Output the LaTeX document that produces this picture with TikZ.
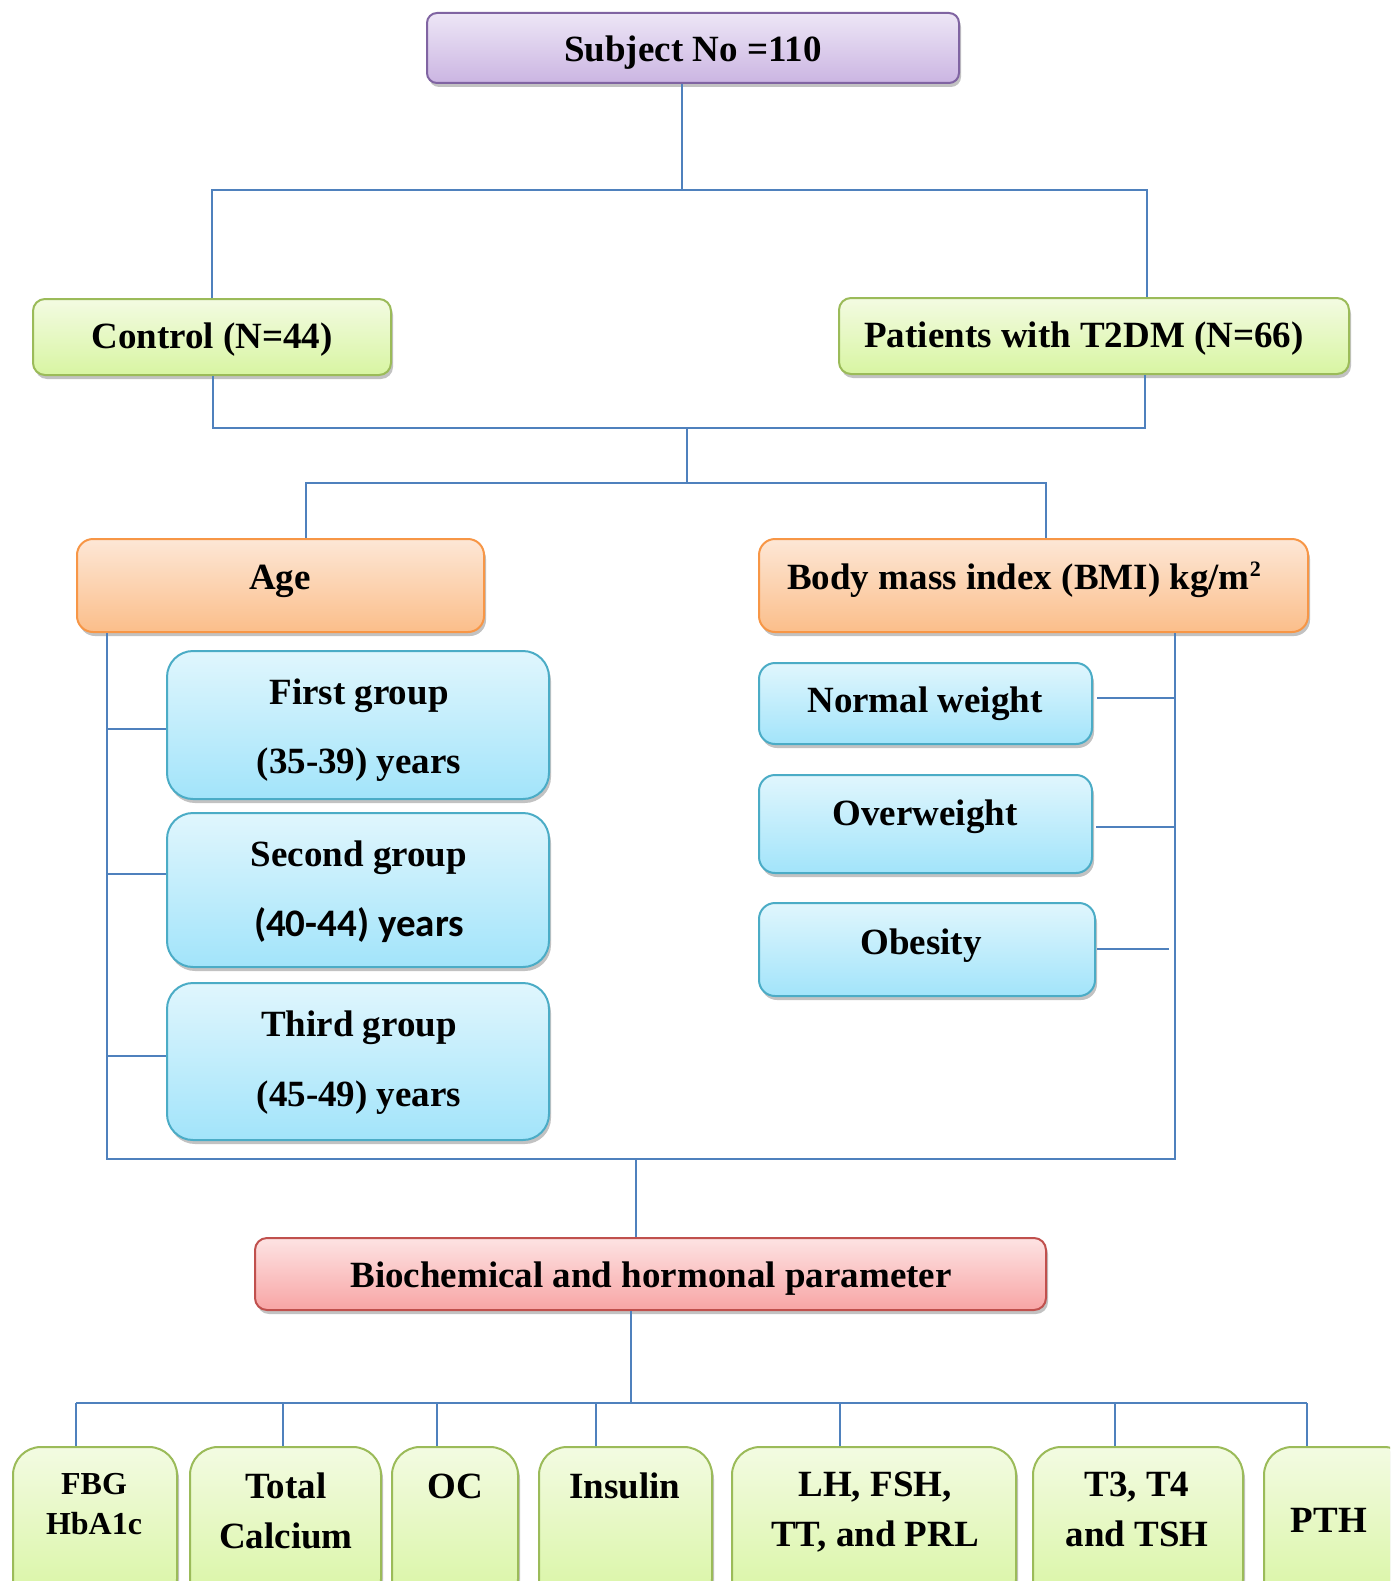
\documentclass[tikz,border=0pt]{standalone}
\usepackage{fontspec}
\setmainfont{Liberation Serif}
\newfontfamily\carl{Carlito}
\usetikzlibrary{shadows}
\definecolor{lineblue}{HTML}{4F81BD}
\definecolor{pborder}{HTML}{8064A2}
\definecolor{ptop}{HTML}{EDE6F6}
\definecolor{pbot}{HTML}{CBB5E2}
\definecolor{gborder}{HTML}{9BBB59}
\definecolor{gtop}{HTML}{F3FBE2}
\definecolor{gbot}{HTML}{D8F5A2}
\definecolor{oborder}{HTML}{F79646}
\definecolor{otop}{HTML}{FDE7D6}
\definecolor{obot}{HTML}{FBBE8A}
\definecolor{bborder}{HTML}{4BACC6}
\definecolor{btop}{HTML}{E0F6FD}
\definecolor{bbot}{HTML}{A2E4FA}
\definecolor{rborder}{HTML}{C0504D}
\definecolor{rtop}{HTML}{FDE3E3}
\definecolor{rbot}{HTML}{F8A5A5}
\tikzset{
  conn/.style={draw=lineblue, line width=2pt},
  box/.style={line width=2pt, inner sep=0pt, rectangle,
    drop shadow={shadow xshift=2pt, shadow yshift=-4pt, opacity=0.4, fill=black!60}},
  purplebox/.style={box, draw=pborder, top color=ptop, bottom color=pbot, rounded corners=10pt},
  greenbox/.style={box, draw=gborder, top color=gtop, bottom color=gbot, rounded corners=12pt},
  greentall/.style={box, draw=gborder, top color=gtop, bottom color=gbot, rounded corners=28pt},
  orangebox/.style={box, draw=oborder, top color=otop, bottom color=obot, rounded corners=16pt},
  bluebox/.style={box, draw=bborder, top color=btop, bottom color=bbot, rounded corners=26pt},
  bluesmall/.style={box, draw=bborder, top color=btop, bottom color=bbot, rounded corners=16pt},
  redbox/.style={box, draw=rborder, top color=rtop, bottom color=rbot, rounded corners=12pt},
  txt/.style={anchor=base, inner sep=0pt, font=\fontsize{37}{44}\selectfont\bfseries},
  stxt/.style={anchor=base, inner sep=0pt, font=\fontsize{32}{38}\selectfont\bfseries},
}
\begin{document}
\begin{tikzpicture}[x=1pt, y=-1pt]
\useasboundingbox (0,0) rectangle (1390,1581);
\clip (0,0) rectangle (1390,1581);

% boxes
\node[purplebox, minimum width=532pt, minimum height=70pt] (subj) at (693,48) {};
\node[greenbox, minimum width=358pt, minimum height=76pt] (ctrl) at (212,337) {};
\node[greenbox, minimum width=510pt, minimum height=76pt] (pat) at (1094,336) {};
\node[orangebox, minimum width=407pt, minimum height=93pt] (age) at (280.5,585.5) {};
\node[orangebox, minimum width=549pt, minimum height=93pt] (bmi) at (1033.5,585.5) {};
\node[bluebox, minimum width=382pt, minimum height=148pt] (g1) at (358,725) {};
\node[bluebox, minimum width=382pt, minimum height=154pt] (g2) at (358,890) {};
\node[bluebox, minimum width=382pt, minimum height=157pt] (g3) at (358,1061.5) {};
\node[bluesmall, minimum width=333pt, minimum height=81pt] (nw) at (925.5,703.5) {};
\node[bluesmall, minimum width=333pt, minimum height=98pt] (ow) at (925.5,824) {};
\node[bluesmall, minimum width=336pt, minimum height=93pt] (ob) at (927,949.5) {};
\node[redbox, minimum width=791pt, minimum height=72pt] (bio) at (650.5,1274) {};
\node[greentall, minimum width=164pt, minimum height=160pt] (fbg) at (95,1527) {};
\node[greentall, minimum width=191pt, minimum height=160pt] (tc) at (285.5,1527) {};
\node[greentall, minimum width=126pt, minimum height=160pt] (oc) at (455,1527) {};
\node[greentall, minimum width=173pt, minimum height=160pt] (ins) at (625.5,1527) {};
\node[greentall, minimum width=284pt, minimum height=160pt] (lh) at (874,1527) {};
\node[greentall, minimum width=210pt, minimum height=160pt] (t3) at (1138,1527) {};
\node[greentall, minimum width=148pt, minimum height=160pt] (pth) at (1338,1527) {};

% texts
\node[txt] (subjt) at (693,62) {Subject No =110};
\node[txt] (ctrlt) at (212,348) {Control (N=44)};
\node[txt] (patt) at (1084,347) {Patients with T2DM (N=66)};
\node[txt] (aget) at (280,589) {Age};
\node[txt] (bmit) at (1024,589) {Body mass index (BMI) kg/m\raisebox{13pt}{\fontsize{22}{24}\selectfont 2}};
\node[txt] (g1a) at (359,704) {First group};
\node[txt] (g1b) at (359,773) {(35-39) years};
\node[txt] (g2a) at (359,866) {Second group};
\node[txt, font=\fontsize{39}{46}\selectfont\carl\bfseries] (g2b) at (359,936) {(40-44) years};
\node[txt] (g3a) at (359,1036) {Third group};
\node[txt] (g3b) at (359,1106) {(45-49) years};
\node[txt] (nwt) at (925,712) {Normal weight};
\node[txt] (owt) at (925,825) {Overweight};
\node[txt] (obt) at (921,954) {Obesity};
\node[txt] (biot) at (651,1287) {Biochemical and hormonal parameter};
\node[stxt] (fbga) at (94,1494) {FBG};
\node[stxt] (fbgb) at (94,1534) {HbA1c};
\node[txt] (tca) at (286,1498) {Total};
\node[txt] (tcb) at (286,1548) {Calcium};
\node[txt] (oct) at (455,1498) {OC};
\node[txt] (inst) at (625,1498) {Insulin};
\node[txt] (lha) at (875,1496) {LH, FSH,};
\node[txt] (lhb) at (875,1546) {TT, and PRL};
\node[txt] (t3a) at (1137,1496) {T3, T4};
\node[txt] (t3b) at (1137,1546) {and TSH};
\node[txt] (ptht) at (1329,1532) {PTH};

% connectors level 1
\coordinate (j1) at (682,190);
\coordinate (j1l) at (212,190);
\coordinate (j1r) at (1147,190);
\draw[conn] (subj.south -| j1) -- (j1);
\draw[conn] (ctrl.north -| j1l) |- (j1r) -- (pat.north -| j1r);

% level 2
\coordinate (j2l) at (213,428);
\coordinate (j2r) at (1145,428);
\coordinate (j2c) at (687,428);
\coordinate (j3) at (687,483);
\coordinate (j3l) at (306,483);
\coordinate (j3r) at (1046,483);
\draw[conn] (ctrl.south -| j2l) -- (j2l) -- (j2r) -- (pat.south -| j2r);
\draw[conn] (j2c) -- (j3);
\draw[conn] (age.north -| j3l) -- (j3l) -- (j3r) -- (bmi.north -| j3r);

% level 3
\coordinate (al) at (107,1159);
\coordinate (ar) at (1175,1159);
\coordinate (jc) at (636,1159);
\draw[conn] (age.south -| al) -- (al) -- (ar) -- (bmi.south -| ar);
\draw[conn] (jc) -- (bio.north -| jc);

% age branches
\coordinate (a1) at (107,729);
\coordinate (a2) at (107,874);
\coordinate (a3) at (107,1056);
\draw[conn] (a1) -- (g1.west |- a1);
\draw[conn] (a2) -- (g2.west |- a2);
\draw[conn] (a3) -- (g3.west |- a3);

% bmi branches
\coordinate (b1) at (1175,698);
\coordinate (b2) at (1175,827);
\coordinate (b3) at (1169,949);
\coordinate (b1s) at (1097,698);
\coordinate (b2s) at (1096,827);
\coordinate (b3s) at (1097,949);
\draw[conn] (b1s) -- (b1);
\draw[conn] (b2s) -- (b2);
\draw[conn] (b3s) -- (b3);

% bottom
\coordinate (bb) at (631,1403);
\coordinate (bl) at (76,1403);
\coordinate (br) at (1307,1403);
\draw[conn] (bio.south -| bb) -- (bb);
\draw[conn] (bl) -- (br);
\foreach \n/\x in {fbg/76, tc/283, oc/437, ins/596, lh/840, t3/1115, pth/1307}{
  \draw[conn] (\x,1403) -- (\n.north -| \x,0);
}
\end{tikzpicture}
\end{document}
